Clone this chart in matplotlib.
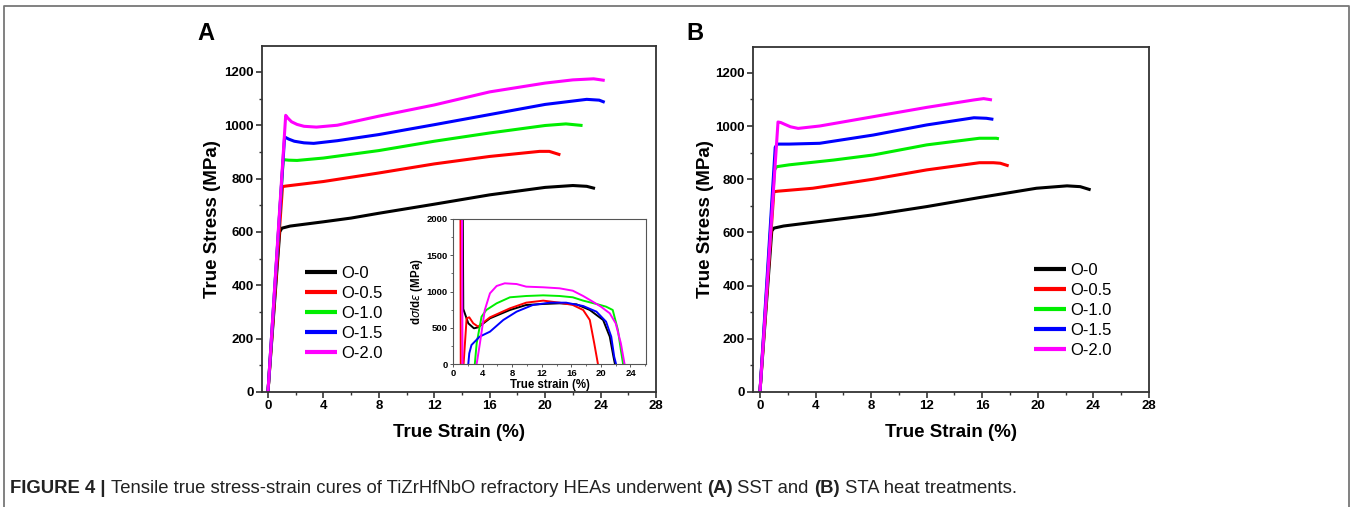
import matplotlib
matplotlib.use("Agg")
import matplotlib.pyplot as plt
from matplotlib.lines import Line2D
from matplotlib.ticker import MultipleLocator

plt.rcParams['font.family'] = ['Liberation Sans', 'DejaVu Sans']

W, H = 1352, 507
labels = ["O-0", "O-0.5", "O-1.0", "O-1.5", "O-2.0"]
colors = ["#000000", "#ff0000", "#00ee00", "#0000ff", "#ff00ff"]

# ---- Panel A (SST): true strain (%) / true stress (MPa) ----
a_strain_o00 = [0, 0.85, 1.0, 1.6, 4, 6, 8, 12, 16, 20, 22, 23, 23.6]
a_stress_o00 = [0, 600, 614, 622, 638, 652, 670, 704, 739, 767, 774, 771, 763]
a_strain_o05 = [0, 1.05, 1.3, 4, 8, 12, 16, 19.6, 20.3, 21.1]
a_stress_o05 = [0, 770, 772, 789, 821, 855, 883, 902, 902, 889]
a_strain_o10 = [0, 1.1, 1.5, 2.1, 4, 8, 12, 16, 20, 21.5, 22.7]
a_stress_o10 = [0, 871, 869, 868, 877, 905, 940, 971, 999, 1005, 999]
a_strain_o15 = [0, 1.2, 1.5, 1.9, 2.6, 3.3, 5, 8, 12, 16, 20, 23, 23.9, 24.3]
a_stress_o15 = [0, 956, 948, 940, 934, 932, 942, 965, 1002, 1040, 1078, 1097, 1094, 1086]
a_strain_o20 = [0, 1.28, 1.45, 1.7, 2.1, 2.6, 3.5, 5, 8, 12, 16, 20, 22, 23.5, 24.3]
a_stress_o20 = [0, 1037, 1026, 1013, 1003, 996, 993, 1000, 1034, 1076, 1125, 1158, 1170, 1174, 1168]

# ---- Panel B (STA) ----
b_strain_o00 = [0, 0.85, 1.0, 1.7, 4.3, 8.15, 12, 15.8, 19.9, 22.1, 23.05, 23.8]
b_stress_o00 = [0, 605, 616, 624, 641, 666, 697, 731, 766, 775, 772, 760]
b_strain_o05 = [0, 1.0, 1.3, 3.8, 8.15, 12, 15.8, 16.8, 17.3, 17.9]
b_stress_o05 = [0, 753, 755, 766, 800, 835, 862, 862, 860, 850]
b_strain_o10 = [0, 1.05, 1.2, 2.1, 5.3, 8.15, 12, 15.8, 17.0, 17.2]
b_stress_o10 = [0, 835, 847, 854, 872, 891, 929, 954, 954, 952]
b_strain_o15 = [0, 1.1, 1.25, 2.1, 4.3, 8.15, 12, 15.4, 16.3, 16.8]
b_stress_o15 = [0, 920, 932, 932, 935, 966, 1004, 1031, 1029, 1025]
b_strain_o20 = [0, 1.3, 1.5, 1.8, 2.2, 2.75, 4.3, 8.15, 12, 15.4, 16.1, 16.7]
b_stress_o20 = [0, 1015, 1013, 1006, 997, 991, 1000, 1035, 1070, 1098, 1103, 1098]

# ---- Inset (work hardening rate, panel A) ----
i_strain_o00 = [1.3, 1.39, 2.07, 2.83, 3.4, 5, 7.7, 9.9, 12.2, 14.4, 16.7, 18.5, 20.3, 21.2, 21.7, 21.9]
i_rate_o00 = [2500, 759, 561, 492, 506, 630, 745, 814, 828, 837, 823, 745, 607, 377, 101, 0]
i_strain_o05 = [1.0, 1.05, 1.4, 1.84, 2.2, 2.74, 3.4, 5, 7.7, 9.9, 12.2, 14.4, 16.2, 17.6, 18.5, 19.1, 19.6]
i_rate_o05 = [2500, -200, -50, 630, 644, 561, 515, 644, 768, 846, 874, 846, 814, 745, 607, 285, 0]
i_strain_o10 = [2.95, 3.2, 3.86, 4.5, 5.9, 7.7, 9.9, 12.2, 14.4, 16.2, 17.6, 19.4, 20.7, 21.6, 22.3, 22.7, 23.0]
i_rate_o10 = [0, 285, 653, 745, 837, 920, 938, 947, 938, 920, 874, 828, 791, 745, 469, 193, 0]
i_strain_o15 = [2.07, 2.2, 2.5, 3.6, 5, 6.8, 8.6, 10.8, 13.1, 15.3, 17.6, 19.4, 20.7, 21.4, 21.8, 22.05]
i_rate_o15 = [0, 147, 262, 377, 446, 607, 722, 814, 846, 846, 800, 722, 584, 377, 101, 0]
i_strain_o20 = [1.2, 1.3, 3.0, 3.2, 3.64, 4.3, 5, 5.9, 7, 8.6, 9.9, 12.2, 14.4, 16.2, 17.6, 18.9, 20, 21.2, 22, 22.7, 23.2]
i_rate_o20 = [2500, -300, -100, 0, 285, 745, 975, 1076, 1113, 1103, 1067, 1058, 1044, 1011, 938, 860, 791, 699, 561, 285, 0]

panel_a = [(a_strain_o00, a_stress_o00), (a_strain_o05, a_stress_o05), (a_strain_o10, a_stress_o10),
           (a_strain_o15, a_stress_o15), (a_strain_o20, a_stress_o20)]
panel_b = [(b_strain_o00, b_stress_o00), (b_strain_o05, b_stress_o05), (b_strain_o10, b_stress_o10),
           (b_strain_o15, b_stress_o15), (b_strain_o20, b_stress_o20)]
inset = [(i_strain_o00, i_rate_o00), (i_strain_o05, i_rate_o05), (i_strain_o10, i_rate_o10),
         (i_strain_o15, i_rate_o15), (i_strain_o20, i_rate_o20)]

fig = plt.figure(figsize=(W / 100, H / 100), dpi=100)

def px_rect(l, t, r, b):
    return [l / W, (H - b) / H, (r - l) / W, (b - t) / H]

spine_col = "#333333"

def style_main(ax, xl):
    ax.set_xlim(xl, 28)
    ax.set_ylim(0, 1297)
    ax.xaxis.set_major_locator(MultipleLocator(4))
    ax.xaxis.set_minor_locator(MultipleLocator(2))
    ax.yaxis.set_major_locator(MultipleLocator(200))
    ax.yaxis.set_minor_locator(MultipleLocator(100))
    for s in ax.spines.values():
        s.set_linewidth(1.3)
        s.set_color(spine_col)
    ax.tick_params(which="major", direction="out", length=4, width=1.2, color=spine_col,
                   labelsize=9.5, pad=2)
    ax.tick_params(which="minor", direction="out", length=2.5, width=1.0, color=spine_col)
    for lab in ax.get_xticklabels() + ax.get_yticklabels():
        lab.set_fontweight("bold")
    ax.set_xlabel("True Strain (%)", fontsize=13.5, fontweight="bold")
    ax.set_ylabel("True Stress (MPa)", fontsize=13.5, fontweight="bold")

# Panel A
axA = fig.add_axes(px_rect(262, 46, 656, 392))
for (x, y), c, lab in zip(panel_a, colors, labels):
    axA.plot(x, y, color=c, lw=2.2, label=lab, solid_capstyle="butt")
style_main(axA, -0.43)
axA.xaxis.set_label_coords(0.5, -0.092)
axA.yaxis.set_label_coords(-0.105, 0.5)
axA.legend(loc="upper left", bbox_to_anchor=((305 - 262) / 394, (392 - 266) / 346),
           frameon=False, fontsize=12, handlelength=1.9, handletextpad=0.25,
           labelspacing=0.3, borderpad=0, borderaxespad=0)
for line in axA.get_legend().get_lines():
    line.set_linewidth(3)

# Panel B
axB = fig.add_axes(px_rect(753, 47, 1149, 392))
for (x, y), c, lab in zip(panel_b, colors, labels):
    axB.plot(x, y, color=c, lw=2.2, label=lab, solid_capstyle="butt")
style_main(axB, -0.5)
axB.xaxis.set_label_coords(0.5, -0.092)
axB.yaxis.set_label_coords(-0.098, 0.5)
axB.legend(loc="upper left", bbox_to_anchor=((1034 - 753) / 396, (392 - 263) / 345),
           frameon=False, fontsize=12, handlelength=1.9, handletextpad=0.25,
           labelspacing=0.3, borderpad=0, borderaxespad=0)
for line in axB.get_legend().get_lines():
    line.set_linewidth(3)

# Inset
axI = fig.add_axes(px_rect(453, 219, 646, 364))
for (x, y), c in zip(inset, colors):
    axI.plot(x, y, color=c, lw=1.4)
axI.set_xlim(0, 26.1)
axI.set_ylim(0, 2000)
axI.xaxis.set_major_locator(MultipleLocator(4))
axI.xaxis.set_minor_locator(MultipleLocator(2))
axI.yaxis.set_major_locator(MultipleLocator(500))
axI.yaxis.set_minor_locator(MultipleLocator(250))
for s in axI.spines.values():
    s.set_linewidth(0.8)
    s.set_color("#555555")
axI.tick_params(which="major", direction="out", length=2.5, width=0.7, labelsize=6.8, pad=1.2,
                color="#555555")
axI.tick_params(which="minor", direction="out", length=1.5, width=0.6, color="#555555")
for lab in axI.get_xticklabels() + axI.get_yticklabels():
    lab.set_fontweight("bold")
axI.set_xlabel("True strain (%)", fontsize=8.3, fontweight="bold", labelpad=0.5)
axI.set_ylabel(r"d$\sigma$/d$\varepsilon$ (MPa)", fontsize=8.3, fontweight="bold", labelpad=1)

# Panel letters
fig.text(197 / W, 1 - 34 / H, "A", fontsize=17, fontweight="bold", va="center", ha="left")
fig.text(686 / W, 1 - 34 / H, "B", fontsize=17, fontweight="bold", va="center", ha="left")

# Figure border
bc = "#777777"
fig.add_artist(Line2D([4 / W, 4 / W, 1349 / W, 1349 / W], [-0.01, 1 - 6 / H, 1 - 6 / H, -0.01],
                      transform=fig.transFigure, color=bc, lw=1.3))

# Caption
cap_parts = [("FIGURE 4 | ", "bold"), ("Tensile true stress-strain cures of TiZrHfNbO refractory HEAs underwent ", "normal"),
             ("(A)", "bold"), (" SST and ", "normal"), ("(B)", "bold"), (" STA heat treatments.", "normal")]
fig.canvas.draw()
renderer = fig.canvas.get_renderer()
xcur = 10
for txt, wt in cap_parts:
    t = fig.text(xcur / W, 1 - 493 / H, txt, fontsize=13.3, fontweight=wt, va="baseline", ha="left",
                 color="#222222")
    bb = t.get_window_extent(renderer=renderer)
    xcur += bb.width

fig.savefig("out.png", dpi=100)
